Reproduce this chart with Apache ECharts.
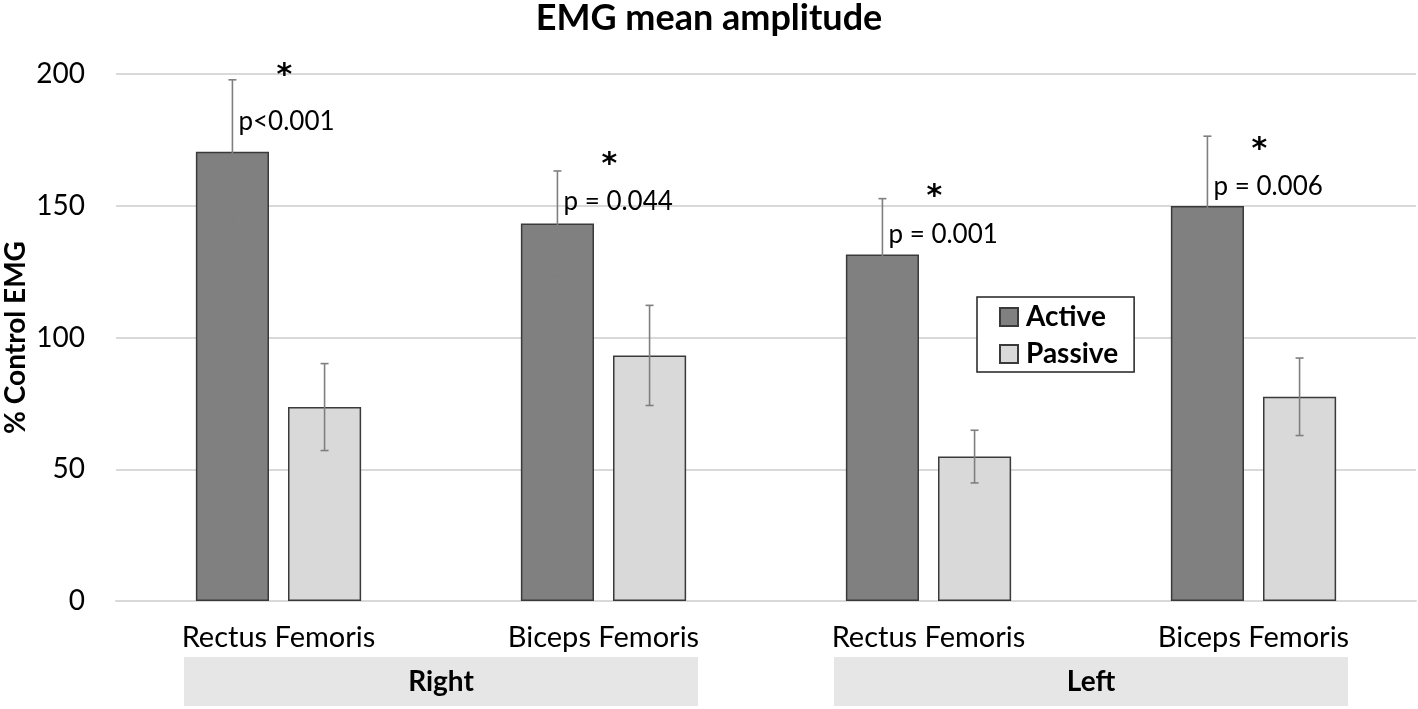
<!DOCTYPE html>
<html>
<head>
<meta charset="utf-8">
<script src="https://cdn.jsdelivr.net/npm/echarts@6/dist/echarts.min.js"></script>
<style>
html,body{margin:0;padding:0;background:#fff;}
#chart{width:1418px;height:709px;}
</style>
</head>
<body>
<div id="chart"></div>
<script>
// ---- data ----
const categories = ['Rectus Femoris', 'Biceps Femoris', 'Rectus Femoris', 'Biceps Femoris'];
const sides = ['Right', 'Left'];
const seriesNames = ['Active', 'Passive'];
const activeMean = [170.5, 143.3, 131.5, 149.9];
const activeErr = [27.3, 19.9, 21.2, 26.5];
const passiveMean = [73.6, 93.2, 54.8, 77.5];
const passiveErr = [16.5, 19.0, 10.0, 14.7];
const pLabels = ['p<0.001', 'p = 0.044', 'p = 0.001', 'p = 0.006'];
const pLabelY = [182, 151.6, 139, 157.2];
const starY = [203, 169, 157, 174.7];
const yTicks = [0, 50, 100, 150, 200];

const FONT = 'Lato, "Open Sans", sans-serif';
const BAR_W = 0.225, BAR_GAP = 0.26;
const OFF = (BAR_W + BAR_W * BAR_GAP) / 2;

function errData(mean, err) {
  return mean.map((m, i) => [i, m - err[i], m + err[i]]);
}
function errRender(sign) {
  return function (params, api) {
    const x = api.value(0);
    const lo = api.coord([x, api.value(1)]);
    const hi = api.coord([x, api.value(2)]);
    const bw = api.size([1, 0])[0];
    const cx = lo[0] + sign * OFF * bw;
    const cap = 4;
    const st = { stroke: '#7f7f7f', lineWidth: 1.6 };
    return {
      type: 'group',
      children: [
        { type: 'line', shape: { x1: cx, y1: lo[1], x2: cx, y2: hi[1] }, style: st },
        { type: 'line', shape: { x1: cx - cap, y1: lo[1], x2: cx + cap, y2: lo[1] }, style: st },
        { type: 'line', shape: { x1: cx - cap, y1: hi[1], x2: cx + cap, y2: hi[1] }, style: st }
      ]
    };
  };
}
const annData = categories.map((c, i) => [i, starY[i], pLabelY[i]]);

const chart = echarts.init(document.getElementById('chart'), null, { renderer: 'canvas' });
chart.setOption({
  animation: false,
  backgroundColor: '#ffffff',
  textStyle: { fontFamily: FONT },
  title: {
    text: 'EMG mean amplitude',
    left: 'center',
    top: -5,
    textStyle: { fontFamily: FONT, fontSize: 36, fontWeight: 'bold', color: '#000' }
  },
  legend: {
    data: seriesNames,
    orient: 'vertical',
    left: 977,
    top: 297,
    icon: 'rect',
    itemWidth: 18,
    itemHeight: 18,
    itemGap: 9,
    padding: [6, 16, 4, 22],
    borderColor: '#222',
    borderWidth: 1.5,
    backgroundColor: '#fff',
    textStyle: { fontFamily: FONT, fontSize: 28, fontWeight: 'bold', color: '#000', padding: [0, 0, 0, 3] }
  },
  grid: { left: 116, right: 2, top: 74, bottom: 108, containLabel: false, outerBoundsMode: 'none' },
  xAxis: [
    {
      type: 'category',
      data: categories,
      axisLine: { show: true, lineStyle: { color: '#d9d9d9', width: 2 } },
      axisTick: { show: false },
      axisLabel: { fontFamily: FONT, fontSize: 29, color: '#000', margin: 22, interval: 0 }
    },
    {
      type: 'category',
      data: sides,
      position: 'bottom',
      axisLine: { show: false },
      axisTick: { show: false },
      splitLine: { show: false },
      axisLabel: {
        interval: 0,
        margin: 56,
        fontFamily: FONT, fontSize: 28, fontWeight: 'bold', color: '#000',
        backgroundColor: '#e6e6e6',
        width: 514, height: 49, lineHeight: 49, align: 'center'
      }
    }
  ],
  yAxis: {
    type: 'value',
    min: 0, max: 200, interval: 50,
    name: '% Control EMG',
    nameLocation: 'middle',
    nameGap: 86,
    nameMoveOverlap: false,
    nameTextStyle: { fontFamily: FONT, fontSize: 28, fontWeight: 'bold', color: '#000' },
    axisLine: { show: false },
    axisTick: { show: false },
    axisLabel: { fontFamily: FONT, fontSize: 28, color: '#000', margin: 31 },
    splitLine: { lineStyle: { color: '#d9d9d9', width: 2 } }
  },
  series: [
    {
      name: 'Active', type: 'bar', data: activeMean,
      barWidth: (BAR_W * 100) + '%', barGap: (BAR_GAP * 100) + '%',
      itemStyle: { color: '#808080', borderColor: '#3a3a3a', borderWidth: 1.5 }
    },
    {
      name: 'Passive', type: 'bar', data: passiveMean,
      barWidth: (BAR_W * 100) + '%', barGap: (BAR_GAP * 100) + '%',
      itemStyle: { color: '#d9d9d9', borderColor: '#3a3a3a', borderWidth: 1.5 }
    },
    {
      name: 'ActiveErr', type: 'custom', data: errData(activeMean, activeErr),
      renderItem: errRender(-1), encode: { x: 0, y: [1, 2] }, z: 5, silent: true
    },
    {
      name: 'PassiveErr', type: 'custom', data: errData(passiveMean, passiveErr),
      renderItem: errRender(1), encode: { x: 0, y: [1, 2] }, z: 5, silent: true
    },
    {
      name: 'Annotations', type: 'custom', data: annData, clip: false, z: 6, silent: true,
      encode: { x: 0, y: [1, 2] },
      renderItem: function (params, api) {
        const i = api.value(0);
        const bw = api.size([1, 0])[0];
        const s = api.coord([i, api.value(1)]);
        const p = api.coord([i, api.value(2)]);
        const barCx = s[0] - OFF * bw;
        return {
          type: 'group',
          children: [
            { type: 'text', x: barCx + 52, y: s[1] + 10,
              style: { text: '*', fontFamily: 'DejaVu Sans', fontSize: 30, fontWeight: 'bold', fill: '#000', align: 'center', verticalAlign: 'middle' } },
            { type: 'text', x: barCx + 6, y: p[1],
              style: { text: pLabels[params.dataIndex], fontFamily: FONT, fontSize: 26, fill: '#000', align: 'left', verticalAlign: 'middle' } }
          ]
        };
      }
    }
  ]
});
</script>
</body>
</html>
